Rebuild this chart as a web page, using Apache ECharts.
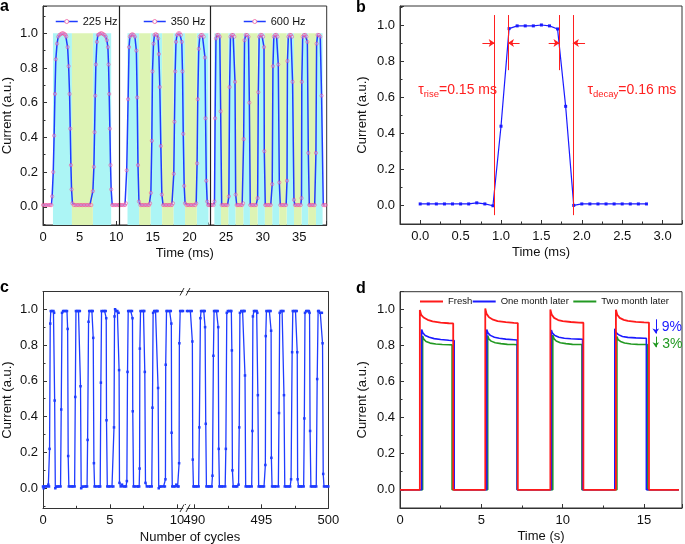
<!DOCTYPE html>
<html>
<head>
<meta charset="utf-8">
<script src="https://cdn.jsdelivr.net/npm/echarts@6/dist/echarts.min.js"></script>
<style>
html,body{margin:0;padding:0;background:#fff;}
#chart{width:685px;height:544px;}
</style>
</head>
<body>
<div id="chart"></div>
<script>
// ---------------- DATA ----------------
// Panel a: photocurrent at 225 / 350 / 600 Hz  [time ms, current]
const a225 = [
[0,0.01],[0.2,0.01],[0.4,0.01],[0.6,0.01],[0.8,0.01],[1.0,0.01],[1.15,0.01],
[1.25,0.06],[1.4,0.2],[1.52,0.41],[1.63,0.65],[1.75,0.85],[1.92,0.94],[2.08,0.98],[2.25,0.99],[2.42,0.995],[2.6,1.0],[2.78,1.0],[2.95,0.995],[3.08,0.99],
[3.18,0.98],[3.36,0.92],[3.5,0.81],[3.63,0.65],[3.72,0.45],[3.81,0.24],[3.9,0.1],[4.02,0.02],
[4.2,0.01],[4.4,0.01],[4.6,0.01],[4.8,0.01],[5.0,0.01],[5.2,0.01],[5.4,0.01],[5.6,0.01],[5.8,0.01],[6.0,0.01],[6.2,0.01],[6.4,0.01],[6.6,0.01],
[6.81,0.09],[6.95,0.23],[7.04,0.43],[7.13,0.64],[7.22,0.82],[7.36,0.95],[7.5,0.99],[7.68,0.995],[7.86,1.0],[8.04,1.0],[8.22,0.995],[8.4,0.99],[8.58,0.98],
[8.72,0.96],[8.86,0.92],[8.95,0.82],[9.04,0.65],[9.13,0.45],[9.22,0.24],[9.31,0.1],[9.45,0.01],
[9.6,0.01],[9.8,0.01],[10.0,0.01],[10.2,0.01],[10.43,0.01]
];
const a350 = [
[10.43,0.01],[10.6,0.01],[10.8,0.01],[11.0,0.01],[11.2,0.01],[11.32,0.02],
[11.43,0.21],[11.62,0.62],[11.75,0.92],[11.86,0.98],[12.02,0.99],[12.2,0.995],[12.38,0.99],[12.55,0.98],
[12.75,0.9],[12.86,0.63],[12.97,0.24],[13.1,0.03],
[13.3,0.01],[13.5,0.01],[13.7,0.01],[13.9,0.01],[14.1,0.01],[14.3,0.01],[14.5,0.01],[14.62,0.02],
[14.73,0.08],[14.86,0.38],[14.95,0.78],[15.09,0.94],[15.22,0.99],[15.4,0.995],[15.58,0.99],[15.72,0.97],
[15.82,0.88],[15.95,0.69],[16.09,0.35],[16.23,0.07],
[16.4,0.01],[16.6,0.01],[16.8,0.01],[17.0,0.01],[17.2,0.01],[17.4,0.01],[17.6,0.01],[17.75,0.02],
[17.86,0.19],[17.95,0.49],[18.05,0.78],[18.16,0.95],[18.3,0.99],[18.48,1.0],[18.66,1.0],[18.82,0.99],
[18.95,0.95],[19.05,0.78],[19.15,0.42],[19.28,0.12],[19.4,0.02],
[19.6,0.01],[19.8,0.01],[20.0,0.01],[20.2,0.01],[20.4,0.01],[20.6,0.01],[20.8,0.01],[20.92,0.02],
[21.04,0.25],[21.13,0.62],[21.27,0.91],[21.4,0.98],[21.58,0.99],[21.76,0.99],[21.94,0.98],
[22.12,0.86],[22.2,0.51],[22.3,0.15],[22.42,0.03],
[22.55,0.01],[22.7,0.01],[22.9,0.01]
];
const a600 = [
[22.9,0.01],[23.1,0.01],[23.3,0.01],[23.42,0.03],
[23.5,0.51],[23.62,0.97],[23.78,0.99],[23.96,0.99],[24.14,0.98],
[24.26,0.55],[24.4,0.01],
[24.6,0.01],[24.8,0.01],[25.0,0.01],[25.2,0.01],[25.38,0.06],
[25.48,0.69],[25.6,0.98],[25.78,0.99],[25.96,0.99],[26.12,0.98],
[26.22,0.72],[26.31,0.07],[26.45,0.01],
[26.6,0.01],[26.8,0.01],[27.0,0.01],[27.2,0.01],[27.32,0.02],
[27.4,0.39],[27.52,0.96],[27.68,0.99],[27.86,0.99],[28.06,0.98],
[28.18,0.6],[28.3,0.01],
[28.5,0.01],[28.7,0.01],[28.9,0.01],[29.1,0.01],[29.31,0.05],
[29.4,0.66],[29.52,0.98],[29.7,0.99],[29.88,0.99],[30.06,0.98],
[30.18,0.92],[30.22,0.32],[30.35,0.01],
[30.5,0.01],[30.7,0.01],[30.9,0.01],[31.1,0.01],[31.3,0.13],
[31.4,0.81],[31.52,0.98],[31.7,0.99],[31.88,0.99],[32.02,0.98],
[32.13,0.82],[32.27,0.14],[32.4,0.01],
[32.6,0.01],[32.8,0.01],[33.0,0.01],[33.2,0.01],[33.32,0.15],
[33.38,0.84],[33.5,0.98],[33.68,0.99],[33.86,0.99],[34.0,0.98],
[34.08,0.72],[34.27,0.04],[34.4,0.01],
[34.6,0.01],[34.8,0.01],[35.0,0.01],[35.2,0.01],[35.3,0.05],
[35.34,0.72],[35.46,0.98],[35.64,0.99],[35.82,0.99],[35.98,0.98],
[36.1,0.95],[36.23,0.31],[36.36,0.01],
[36.5,0.01],[36.7,0.01],[36.9,0.01],[37.1,0.01],
[37.27,0.31],[37.36,0.94],[37.5,0.99],[37.68,0.99],[37.86,0.98],
[38.04,0.64],[38.27,0.01],
[38.45,0.01],[38.6,0.01]
];
const aLightOn  = [[1.36,3.95],[6.81,9.31],[11.54,13.13],[14.68,16.27],[17.81,19.4],[21.0,22.6],[23.4,24.3],[25.3,26.3],[27.35,28.26],[29.3,30.3],[31.3,32.27],[33.27,34.27],[35.3,36.22],[37.27,38.18]];
const aLightOff = [[3.95,6.81],[13.13,14.68],[16.27,17.81],[19.4,21.0],[24.3,25.3],[26.3,27.35],[28.26,29.3],[30.3,31.3],[32.27,33.27],[34.27,35.3],[36.22,37.27]];
const aSections = [10.43, 22.9];
const aNames = ['225 Hz','350 Hz','600 Hz'];

// Panel b: single pulse
const bTime = [0,0.1,0.2,0.3,0.4,0.5,0.6,0.7,0.8,0.9,1.0,1.1,1.2,1.3,1.4,1.5,1.6,1.7,1.8,1.9,2.0,2.1,2.2,2.3,2.4,2.5,2.6,2.7,2.8];
const bCurrent = [0.01,0.01,0.01,0.01,0.01,0.01,0.01,0.016,0.01,0.0,0.44,0.98,0.995,0.995,0.995,1.0,0.995,0.978,0.55,0.002,0.01,0.01,0.01,0.01,0.01,0.01,0.01,0.01,0.01];
const bGuides = [[0.922,1.055,-0.052],[1.086,1.055,0.75],[1.724,1.055,0.75],[1.889,1.055,-0.052]];
const bArrows = [[0.77,0.922],[1.23,1.086],[1.59,1.724],[2.04,1.889]];
const bArrowY = 0.9;
const bRiseText = ['rise','=0.15 ms'];
const bDecayText = ['decay','=0.16 ms'];

// Panel c: cycling stability  [cycle, current]
const cFirst = [
[0,0.01],[0.05,0.0],[0.1,0.01],[0.2,0.01],[0.3,0.01],[0.4,0.02],[0.45,0.01],[0.49,0.22],[0.54,0.92],[0.58,0.99],[0.68,0.99],[0.78,0.99],[0.83,0.98],[0.87,0.49],[0.92,0.0],
[1.0,0.01],[1.1,0.01],[1.2,0.01],[1.31,0.01],[1.36,0.44],[1.42,0.98],[1.5,0.99],[1.6,0.99],[1.7,0.99],[1.79,0.99],[1.84,0.89],[1.88,0.18],[1.93,0.01],
[2.05,0.01],[2.15,0.01],[2.25,0.01],[2.36,0.01],[2.41,0.51],[2.46,0.99],[2.55,0.99],[2.65,0.99],[2.75,0.99],[2.8,0.57],[2.85,0.0],
[2.95,0.01],[3.1,0.01],[3.2,0.01],[3.29,0.01],[3.33,0.27],[3.4,0.93],[3.45,0.99],[3.55,0.99],[3.65,0.99],[3.71,0.99],[3.75,0.84],[3.8,0.14],[3.85,0.01],
[3.95,0.01],[4.1,0.01],[4.2,0.01],[4.27,0.01],[4.32,0.59],[4.37,0.99],[4.5,0.99],[4.6,0.99],[4.68,0.99],[4.72,0.95],[4.74,0.38],[4.8,0.01],
[4.9,0.01],[5.0,0.01],[5.15,0.01],[5.25,0.01],[5.3,0.34],[5.34,0.96],[5.38,1.0],[5.45,0.99],[5.55,0.99],[5.64,0.98],[5.68,0.66],[5.71,0.03],
[5.8,0.01],[5.9,0.02],[6.0,0.01],[6.1,0.01],[6.2,0.01],[6.26,0.04],[6.31,0.65],[6.36,0.99],[6.45,0.99],[6.55,0.99],[6.64,0.99],[6.68,0.95],[6.7,0.43],[6.76,0.01],
[6.85,0.01],[7.0,0.01],[7.1,0.01],[7.18,0.01],[7.21,0.11],[7.23,0.78],[7.28,0.99],[7.4,0.99],[7.5,0.99],[7.56,0.99],[7.6,0.65],[7.65,0.03],
[7.75,0.01],[7.9,0.01],[8.0,0.01],[8.12,0.01],[8.17,0.45],[8.22,0.98],[8.3,0.99],[8.4,0.99],[8.5,0.99],[8.55,0.99],[8.59,0.56],[8.64,0.0],
[8.75,0.01],[8.85,0.01],[9.0,0.01],[9.1,0.01],[9.14,0.05],[9.16,0.69],[9.22,0.99],[9.3,0.99],[9.45,0.99],[9.54,0.99],[9.58,0.92],[9.6,0.31],[9.65,0.01],
[9.75,0.01],[9.85,0.01],[9.95,0.02],[10.05,0.01],[10.12,0.01],[10.16,0.14],[10.18,0.81],[10.24,0.99],[10.35,0.99],[10.45,0.99]
];
const cLast = [
[489.45,0.99],[489.55,0.99],[489.7,0.99],[489.8,0.99],[489.85,0.82],[489.88,0.16],[489.93,0.01],
[490.0,0.01],[490.1,0.01],[490.2,0.01],[490.32,0.01],[490.37,0.34],[490.45,0.95],[490.5,0.99],[490.6,0.99],[490.7,0.99],[490.77,0.99],[490.8,0.9],[490.85,0.36],[490.9,0.01],
[491.0,0.01],[491.1,0.01],[491.2,0.01],[491.3,0.01],[491.35,0.07],[491.42,0.74],[491.47,0.99],[491.55,0.99],[491.65,0.99],[491.74,0.99],[491.78,0.9],[491.82,0.22],[491.87,0.01],
[491.95,0.01],[492.05,0.01],[492.15,0.01],[492.3,0.01],[492.35,0.22],[492.42,0.98],[492.5,0.99],[492.6,0.99],[492.7,0.99],[492.76,0.99],[492.8,0.77],[492.84,0.1],[492.9,0.01],
[493.0,0.01],[493.1,0.01],[493.2,0.01],[493.3,0.02],[493.35,0.34],[493.4,0.98],[493.5,0.99],[493.6,0.99],[493.7,0.99],[493.75,0.99],[493.78,0.63],[493.83,0.01],
[493.95,0.01],[494.05,0.01],[494.15,0.01],[494.28,0.01],[494.33,0.32],[494.37,0.96],[494.45,0.99],[494.55,0.99],[494.65,0.99],[494.7,0.98],[494.74,0.52],[494.8,0.01],
[494.9,0.01],[495.0,0.01],[495.1,0.01],[495.2,0.01],[495.3,0.13],[495.33,0.85],[495.38,0.99],[495.5,0.99],[495.6,0.99],[495.69,0.99],[495.73,0.88],[495.75,0.17],[495.8,0.01],
[495.9,0.01],[496.0,0.01],[496.1,0.01],[496.27,0.01],[496.32,0.42],[496.37,0.98],[496.45,0.99],[496.55,0.99],[496.65,0.99],[496.69,0.52],[496.75,0.01],
[496.85,0.01],[496.95,0.01],[497.05,0.01],[497.15,0.01],[497.22,0.05],[497.3,0.76],[497.35,0.99],[497.45,0.99],[497.55,0.99],[497.64,0.99],[497.68,0.76],[497.71,0.05],[497.78,0.01],
[497.85,0.01],[497.95,0.01],[498.05,0.01],[498.16,0.01],[498.21,0.39],[498.26,0.98],[498.35,0.99],[498.45,0.99],[498.55,0.99],[498.6,0.98],[498.64,0.32],[498.7,0.01],
[498.8,0.01],[498.9,0.01],[499.0,0.01],[499.1,0.01],[499.17,0.61],[499.24,0.99],[499.3,0.99],[499.4,0.98],[499.52,0.98],[499.57,0.81],[499.62,0.08],[499.68,0.01],[499.8,0.01],[499.9,0.01],[500,0.01]
];

// Panel d: ageing  [time s, current]
const dFresh = [[0,0],[1.22,0],[1.22,0.996],[1.3,0.97],[1.45,0.955],[1.7,0.942],[2.0,0.933],[2.5,0.927],[3.0,0.923],[3.27,0.922],[3.27,0],
[5.24,0],[5.24,1.005],[5.32,0.975],[5.47,0.956],[5.72,0.943],[6.0,0.935],[6.5,0.929],[7.0,0.925],[7.24,0.924],[7.24,0],
[9.24,0],[9.24,1.0],[9.32,0.972],[9.47,0.953],[9.72,0.941],[10.0,0.935],[10.5,0.93],[11.0,0.927],[11.27,0.926],[11.27,0],
[13.27,0],[13.27,0.998],[13.35,0.97],[13.5,0.953],[13.75,0.942],[14.0,0.936],[14.5,0.931],[15.0,0.928],[15.3,0.927],[15.3,0],[17.14,0]];
const dOneMonth = [[0,0],[1.33,0],[1.33,0.889],[1.4,0.87],[1.55,0.855],[1.8,0.845],[2.1,0.838],[2.5,0.833],[3.0,0.829],[3.33,0.827],[3.33,0],
[5.33,0],[5.33,0.888],[5.4,0.87],[5.55,0.856],[5.8,0.846],[6.1,0.84],[6.5,0.835],[7.0,0.832],[7.2,0.83],[7.2,0],
[9.3,0],[9.3,0.886],[9.37,0.868],[9.52,0.855],[9.77,0.846],[10.1,0.84],[10.5,0.837],[11.0,0.835],[11.22,0.834],[11.22,0],
[13.2,0],[13.2,0.893],[13.27,0.872],[13.42,0.86],[13.67,0.85],[14.0,0.845],[14.5,0.842],[15.0,0.84],[15.14,0.84],[15.14,0],[17.14,0]];
const dTwoMonth = [[0,0],[1.39,0],[1.39,0.852],[1.46,0.835],[1.6,0.822],[1.85,0.813],[2.2,0.808],[2.6,0.805],[3.0,0.804],[3.2,0.803],[3.2,0],
[5.39,0],[5.39,0.855],[5.46,0.836],[5.6,0.824],[5.85,0.815],[6.2,0.81],[6.6,0.806],[7.0,0.805],[7.2,0.804],[7.2,0],
[9.39,0],[9.39,0.858],[9.46,0.838],[9.6,0.825],[9.85,0.815],[10.2,0.81],[10.6,0.806],[11.18,0.805],[11.18,0],
[13.33,0],[13.33,0.85],[13.4,0.833],[13.55,0.822],[13.8,0.814],[14.2,0.808],[14.6,0.806],[15.2,0.805],[15.2,0],[17.14,0]];
const dNames = ['Fresh','One month later','Two month later'];
const dDrops = [{text:'9%', x:15.72, from:0.945, to:0.866, tx:16.08, ty:0.9},{text:'3%', x:15.72, from:0.849, to:0.79, tx:16.12, ty:0.808}];

// ---------------- STYLE ----------------
const FONT = '"Liberation Sans", Arial, Helvetica, sans-serif';
const AX = '#333';
const TXT = '#111';
function fmt(step, dec){
  return function(v){ const r = v/step; return Math.abs(r-Math.round(r))<1e-6 ? v.toFixed(dec) : ''; };
}
function valAxis(o){
  return {
    type:'value', gridIndex:o.grid, min:o.min, max:o.max,
    minInterval:o.step, maxInterval:o.step, position:o.position,
    axisLine:{show:true, onZero:false, lineStyle:{color:AX, width:1}},
    axisTick:{show:o.ticks!==false, inside:true, length:4, lineStyle:{color:AX}},
    minorTick:{show:o.ticks!==false, splitNumber:2, length:2.5, lineStyle:{color:AX}},
    splitLine:{show:false},
    axisLabel:{show:o.labels!==false, formatter:fmt(o.step,o.dec), color:TXT, fontSize:13, fontFamily:FONT, margin:o.margin||6},
    name:o.name||'', nameLocation:'middle', nameGap:o.nameGap||25,
    nameTextStyle:{color:TXT, fontSize:13, fontFamily:FONT}
  };
}

const pink = 'rgba(240,50,140,0.5)';
const aLine = '#1f3cff';

function bandData(){
  const out = [];
  aLightOn.forEach(function(b){ out.push([{xAxis:b[0], yAxis:-0.105, itemStyle:{color:'#acf5f5'}},{xAxis:b[1], yAxis:1.0}]); });
  aLightOff.forEach(function(b){ out.push([{xAxis:b[0], yAxis:-0.105, itemStyle:{color:'#ddf4b4'}},{xAxis:b[1], yAxis:1.0}]); });
  return out;
}
function aSeries(name, data, extra){
  const s = {
    name:name, type:'line', xAxisIndex:0, yAxisIndex:0, data:data, z:3,
    symbol:'circle', symbolSize:3.2, showAllSymbol:true,
    lineStyle:{color:aLine, width:1.5},
    itemStyle:{color:'rgba(255,255,255,0.35)', borderColor:pink, borderWidth:1},
    emphasis:{disabled:true}
  };
  return Object.assign(s, extra||{});
}

const bPoints = bTime.map(function(t,i){ return [t, bCurrent[i]]; });
const red = '#ff2020';
const bLines = [];
bGuides.forEach(function(g){ bLines.push([{coord:[g[0],g[1]], symbol:'none'},{coord:[g[0],g[2]], symbol:'none'}]); });
bArrows.forEach(function(a){ bLines.push([{coord:[a[0],bArrowY], symbol:'none'},{coord:[a[1],bArrowY], symbol:'arrow', symbolSize:6}]); });

const rich = {
  t:{fontSize:14, color:red, fontFamily:FONT, lineHeight:18},
  s:{fontSize:9.5, color:red, fontFamily:FONT, lineHeight:6, verticalAlign:'bottom'}
};

const dColors = ['#ff1a1a','#1a1aff','#229922'];

const legendA = [55, 143, 243];
const legendD = [420, 472.7, 573.3];

const option = {
  animation:false,
  backgroundColor:'#fff',
  textStyle:{fontFamily:FONT},
  grid:[
    {left:42.7, top:6, width:284, height:219, show:true, borderColor:AX, borderWidth:1},
    {left:400, top:6, width:283.5, height:218, show:true, borderColor:AX, borderWidth:1},
    {left:42.7, top:291.7, width:142.3, height:216.6},
    {left:185, top:291.7, width:143.3, height:216.6},
    {left:400, top:291.7, width:283, height:216.6, show:true, borderColor:AX, borderWidth:1}
  ],
  xAxis:[
    valAxis({grid:0, min:0, max:38.74, step:5, dec:0, name:'Time (ms)', nameGap:22}),
    valAxis({grid:1, min:-0.25, max:3.24, step:0.5, dec:1, name:'Time (ms)', nameGap:22}),
    valAxis({grid:2, min:0, max:10.6, step:5, dec:0}),
    valAxis({grid:3, min:489.3, max:500, step:5, dec:0}),
    valAxis({grid:4, min:0, max:17.33, step:5, dec:0, name:'Time (s)', nameGap:22}),
    valAxis({grid:2, min:0, max:10.6, step:5, dec:0, position:'top', ticks:false, labels:false}),
    valAxis({grid:3, min:489.3, max:500, step:5, dec:0, position:'top', ticks:false, labels:false})
  ],
  yAxis:[
    valAxis({grid:0, min:-0.105, max:1.157, step:0.2, dec:1, name:'Current (a.u.)', nameGap:29, margin:5}),
    valAxis({grid:1, min:-0.101, max:1.105, step:0.2, dec:1, name:'Current (a.u.)', nameGap:31, margin:5}),
    valAxis({grid:2, min:-0.112, max:1.098, step:0.2, dec:1, name:'Current (a.u.)', nameGap:29, margin:5}),
    valAxis({grid:3, min:-0.112, max:1.098, step:0.2, dec:1, position:'right', ticks:false, labels:false}),
    valAxis({grid:4, min:-0.101, max:1.098, step:0.2, dec:1, name:'Current (a.u.)', nameGap:31, margin:5})
  ],
  legend: aNames.map(function(n,i){
    return {data:[n], left:legendA[i], top:16, padding:0, itemGap:0, itemWidth:22, itemHeight:5, selectedMode:false,
      itemStyle:{color:'#ffffff', borderColor:'rgb(240,120,175)', borderWidth:1},
      lineStyle:{color:aLine, width:1.5},
      textStyle:{color:TXT, fontSize:11, fontFamily:FONT}};
  }).concat(dNames.map(function(n,i){
    return {data:[{name:n, icon:'rect'}], left:legendD[i], top:296.5, padding:0, itemGap:0, itemWidth:23, itemHeight:2, selectedMode:false,
      textStyle:{color:TXT, fontSize:9.5, fontFamily:FONT}};
  })),
  series:[
    {type:'line', xAxisIndex:0, yAxisIndex:0, data:[[0,0]], showSymbol:false, z:1,
     lineStyle:{opacity:0}, markArea:{silent:true, data:bandData()}},
    aSeries(aNames[0], a225),
    aSeries(aNames[1], a350),
    aSeries(aNames[2], a600, {markLine:{silent:true, symbol:'none', label:{show:false},
      lineStyle:{color:'#222', width:1.2, type:'solid'}, data:aSections.map(function(x){ return {xAxis:x}; })}}),
    {type:'line', xAxisIndex:1, yAxisIndex:1, data:bPoints, z:3,
     symbol:'rect', symbolSize:3, lineStyle:{color:'#1a1aff', width:1.2}, itemStyle:{color:'#1a1aff'},
     markLine:{silent:true, label:{show:false}, lineStyle:{color:red, width:1, type:'solid'}, data:bLines},
     markPoint:{silent:true, data:[
       {coord:[-0.025,0.64], symbolSize:0, label:{show:true, position:'right', distance:0, formatter:'{t|τ}{s|'+bRiseText[0]+'}{t|'+bRiseText[1]+'}', rich:rich}},
       {coord:[2.07,0.64], symbolSize:0, label:{show:true, position:'right', distance:0, formatter:'{t|τ}{s|'+bDecayText[0]+'}{t|'+bDecayText[1]+'}', rich:rich}}
     ]}},
    {type:'line', xAxisIndex:2, yAxisIndex:2, data:cFirst, z:3, symbol:'rect', symbolSize:2.5,
     lineStyle:{color:'#1f3cff', width:1.3}, itemStyle:{color:'#1f3cff'}},
    {type:'line', xAxisIndex:3, yAxisIndex:3, data:cLast, z:3, symbol:'rect', symbolSize:2.5,
     lineStyle:{color:'#1f3cff', width:1.3}, itemStyle:{color:'#1f3cff'}},
    {name:dNames[2], type:'line', xAxisIndex:4, yAxisIndex:4, data:dTwoMonth, symbol:'none', z:3,
     lineStyle:{color:dColors[2], width:1.6}, itemStyle:{color:dColors[2]},
     markLine:{silent:true, label:{show:false}, lineStyle:{color:dColors[2], width:1, type:'solid'},
       data:[[{coord:[dDrops[1].x,dDrops[1].from], symbol:'none'},{coord:[dDrops[1].x,dDrops[1].to], symbol:'arrow', symbolSize:5}]]},
     markPoint:{silent:true, data:[{coord:[dDrops[1].tx,dDrops[1].ty], symbolSize:0,
       label:{show:true, position:'right', distance:0, formatter:dDrops[1].text, color:dColors[2], fontSize:14, fontFamily:FONT}}]}},
    {name:dNames[1], type:'line', xAxisIndex:4, yAxisIndex:4, data:dOneMonth, symbol:'none', z:4,
     lineStyle:{color:dColors[1], width:1.6}, itemStyle:{color:dColors[1]},
     markLine:{silent:true, label:{show:false}, lineStyle:{color:dColors[1], width:1, type:'solid'},
       data:[[{coord:[dDrops[0].x,dDrops[0].from], symbol:'none'},{coord:[dDrops[0].x,dDrops[0].to], symbol:'arrow', symbolSize:5}]]},
     markPoint:{silent:true, data:[{coord:[dDrops[0].tx,dDrops[0].ty], symbolSize:0,
       label:{show:true, position:'right', distance:0, formatter:dDrops[0].text, color:dColors[1], fontSize:14, fontFamily:FONT}}]}},
    {name:dNames[0], type:'line', xAxisIndex:4, yAxisIndex:4, data:dFresh, symbol:'none', z:5,
     lineStyle:{color:dColors[0], width:1.8}, itemStyle:{color:dColors[0]}}
  ],
  graphic:[
    {type:'text', left:0, top:-1, z:100, style:{text:'a', font:'bold 16px '+FONT, fill:'#000'}},
    {type:'text', left:356, top:0, z:100, style:{text:'b', font:'bold 16px '+FONT, fill:'#000'}},
    {type:'text', left:0, top:280, z:100, style:{text:'c', font:'bold 16px '+FONT, fill:'#000'}},
    {type:'text', left:356, top:281, z:100, style:{text:'d', font:'bold 16px '+FONT, fill:'#000'}},
    {type:'text', z:100, style:{text:'Number of cycles', x:190, y:537, textAlign:'center', textVerticalAlign:'middle', font:'13px '+FONT, fill:TXT}},
    {type:'rect', z:100, shape:{x:183.3, y:288.5, width:3.4, height:6.5}, style:{fill:'#fff'}},
    {type:'line', z:101, shape:{x1:180, y1:295.5, x2:184, y2:288}, style:{stroke:AX, lineWidth:1}},
    {type:'line', z:101, shape:{x1:186, y1:295.5, x2:190, y2:288}, style:{stroke:AX, lineWidth:1}},
    {type:'rect', z:100, shape:{x:183.3, y:505, width:3.4, height:6.5}, style:{fill:'#fff'}},
    {type:'line', z:101, shape:{x1:180, y1:512, x2:184, y2:504.5}, style:{stroke:AX, lineWidth:1}},
    {type:'line', z:101, shape:{x1:186, y1:512, x2:190, y2:504.5}, style:{stroke:AX, lineWidth:1}}
  ]
};

const chart = echarts.init(document.getElementById('chart'), null, {renderer:'canvas'});
chart.setOption(option);
</script>
</body>
</html>
